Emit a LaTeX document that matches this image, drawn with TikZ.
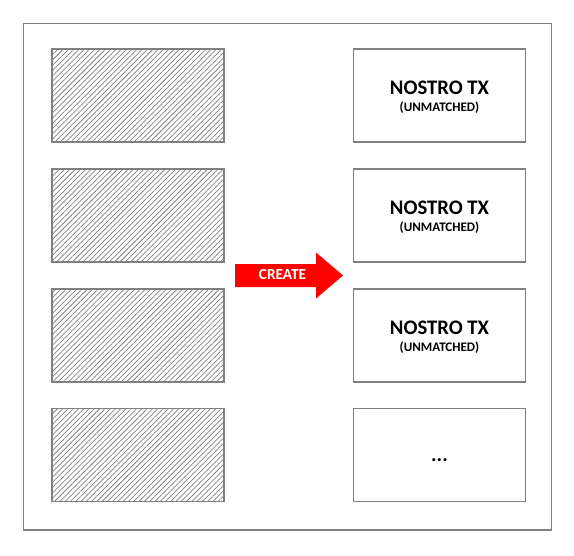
\documentclass[tikz,border=0pt]{standalone}
\usepackage{fontspec}
\setmainfont{Carlito}
\usetikzlibrary{patterns.meta}
\definecolor{framegray}{RGB}{128,128,128}
\definecolor{arrowred}{RGB}{255,0,0}
\tikzset{
  frame/.style={draw=framegray, line width=1.2pt},
  boxstyle/.style={draw=framegray, line width=1.2pt, minimum width=172*0.75pt, minimum height=93*0.75pt, inner sep=0pt},
  hatched/.style={boxstyle, pattern={Lines[angle=45,distance=2.8pt,line width=0.55pt]}, pattern color=framegray},
  txbox/.style={boxstyle, fill=white},
  txlabel/.style={align=center, font=\bfseries, inner sep=0pt},
}
\newcommand{\nostrotext}{{\fontsize{15.5}{17}\selectfont NOSTRO TX}\\[1pt]{\fontsize{9.8}{11}\selectfont (UNMATCHED)}}
\begin{document}
\begin{tikzpicture}[x=0.75pt,y=-0.75pt]
\useasboundingbox (0,0) rectangle (574,556);
\draw[frame] (23.5,23.5) rectangle (551.5,530);
\node[hatched] (l1) at (138,95.5) {};
\node[hatched] (l2) at (138,215.5) {};
\node[hatched] (l3) at (138,335.5) {};
\node[hatched] (l4) at (138,455) {};
\node[txbox] (r1) at (439.5,95.5) {};
\node[txbox] (r2) at (439.5,215.5) {};
\node[txbox] (r3) at (439.5,335.5) {};
\node[txbox] (r4) at (439.5,455) {};
\node[txlabel] (t1) at (439.5,97.5) {\nostrotext};
\node[txlabel] (t2) at (439.5,217.5) {\nostrotext};
\node[txlabel] (t3) at (439.5,337.5) {\nostrotext};
\node[font=\bfseries\fontsize{15.5}{17}\selectfont, inner sep=0pt, anchor=base] (dots) at (439.5,461) {...};
\fill[arrowred] (235,264) -- (316,264) -- (316,252.5) -- (343,275.5) -- (316,298.5) -- (316,287) -- (235,287) -- cycle;
\node[text=white, font=\bfseries\fontsize{11.5}{13}\selectfont, inner sep=0pt] (create) at (282.5,275) {CREATE};
\end{tikzpicture}
\end{document}
